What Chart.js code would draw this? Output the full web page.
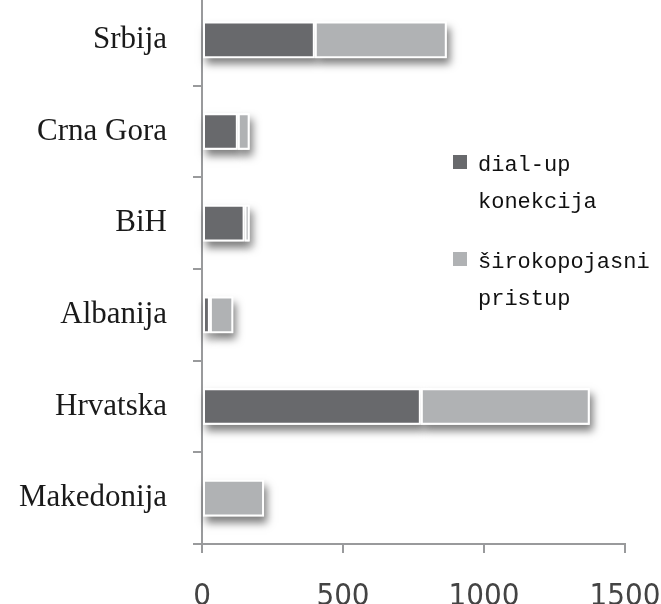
<!DOCTYPE html>
<html>
<head>
<meta charset="utf-8">
<script src="https://cdn.jsdelivr.net/npm/chart.js@4/dist/chart.umd.min.js"></script>
<style>
    html, body { margin: 0; padding: 0; background: #fff; overflow: hidden; }
    body { width: 661px; height: 604px; position: relative; }
    #wrap { position: absolute; left: 0; top: -40px; width: 661px; height: 680px; }
</style>
</head>
<body>
<div id="wrap"><canvas id="internetChart" width="661" height="680"></canvas></div>
<script>
// podaci
var categories = ['Srbija', 'Crna Gora', 'BiH', 'Albanija', 'Hrvatska', 'Makedonija'];
var seriesNames = ['dial-up konekcija', 'širokopojasni pristup'];
var dialUp = [400, 127, 151, 28, 776, 0];
var sirokopojasni = [468, 42, 18, 83, 599, 220];
var xTicks = [0, 500, 1000, 1500];

var OFFSET = 40; // canvas je pomjeren prema gore
var axisColor = '#999a9c';

// sjenka ispod stubaca
var barShadow = {
    id: 'barShadow',
    beforeDatasetsDraw: function (chart) {
        var ctx = chart.ctx;
        ctx.save();
        ctx.shadowColor = 'rgba(0,0,0,0.5)';
        ctx.shadowBlur = 8;
        ctx.shadowOffsetX = 3;
        ctx.shadowOffsetY = 6;
        ctx.fillStyle = '#fff';
        chart.data.datasets.forEach(function (ds, i) {
            chart.getDatasetMeta(i).data.forEach(function (bar) {
                var p = bar.getProps(['x', 'y', 'base', 'height'], true);
                if (Math.abs(p.x - p.base) < 0.5) return;
                ctx.fillRect(Math.min(p.base, p.x), p.y - p.height / 2, Math.abs(p.x - p.base), p.height);
            });
        });
        ctx.restore();
    }
};

// legenda u dva reda, unutar grafika
var sideLegend = {
    id: 'sideLegend',
    afterDraw: function (chart) {
        var ctx = chart.ctx;
        ctx.save();
        ctx.font = '22px "Liberation Mono", monospace';
        ctx.textBaseline = 'alphabetic';
        ctx.textAlign = 'left';
        var baselines = [171, 268];
        chart.data.datasets.forEach(function (ds, i) {
            var by = baselines[i] + OFFSET;
            ctx.fillStyle = ds.backgroundColor;
            ctx.fillRect(453, by - 16, 14, 14);
            ctx.fillStyle = '#101010';
            ds.label.split(' ').forEach(function (line, j) {
                ctx.fillText(line, 478, by + j * 37);
            });
        });
        ctx.restore();
    }
};

function noPadding(scale) {
    scale.paddingLeft = 0;
    scale.paddingRight = 0;
    scale.paddingTop = 0;
    scale.paddingBottom = 0;
}

var ctx = document.getElementById('internetChart').getContext('2d');
var chart = new Chart(ctx, {
    type: 'bar',
    data: {
        labels: categories,
        datasets: [{
            label: seriesNames[0],
            data: dialUp,
            backgroundColor: '#68696c',
            borderColor: '#ffffff',
            borderWidth: 2,
            borderSkipped: false
        }, {
            label: seriesNames[1],
            data: sirokopojasni,
            backgroundColor: '#b0b2b4',
            borderColor: '#ffffff',
            borderWidth: 2,
            borderSkipped: false
        }]
    },
    options: {
        indexAxis: 'y',
        responsive: false,
        animation: false,
        barPercentage: 0.4,
        categoryPercentage: 1,
        layout: { padding: { top: 34, right: 36, left: 0, bottom: 0 } },
        plugins: {
            legend: { display: false },
            tooltip: { enabled: false }
        },
        scales: {
            x: {
                stacked: true,
                min: 0,
                max: 1500,
                afterBuildTicks: function (scale) {
                    scale.ticks = xTicks.map(function (v) { return { value: v }; });
                },
                afterFit: function (scale) { scale.height = 96; noPadding(scale); },
                grid: { drawOnChartArea: false, tickLength: 9, color: axisColor, lineWidth: 2 },
                border: { color: axisColor, width: 2 },
                ticks: {
                    padding: 25,
                    color: '#444444',
                    maxRotation: 0,
                    callback: function (v) { return String(v); },
                    font: { family: '"Liberation Sans Narrow", "DejaVu Sans Condensed", "Liberation Sans", sans-serif', size: 31 }
                }
            },
            y: {
                stacked: true,
                afterFit: function (scale) { scale.width = 202; noPadding(scale); },
                grid: { drawOnChartArea: false, tickLength: 9, color: axisColor, lineWidth: 2, offset: true },
                border: { color: axisColor, width: 2 },
                ticks: {
                    padding: 26,
                    color: '#1a1a1a',
                    font: { family: '"Liberation Serif", "Times New Roman", serif', size: 31 }
                }
            }
        }
    },
    plugins: [barShadow, sideLegend]
});
</script>
</body>
</html>
